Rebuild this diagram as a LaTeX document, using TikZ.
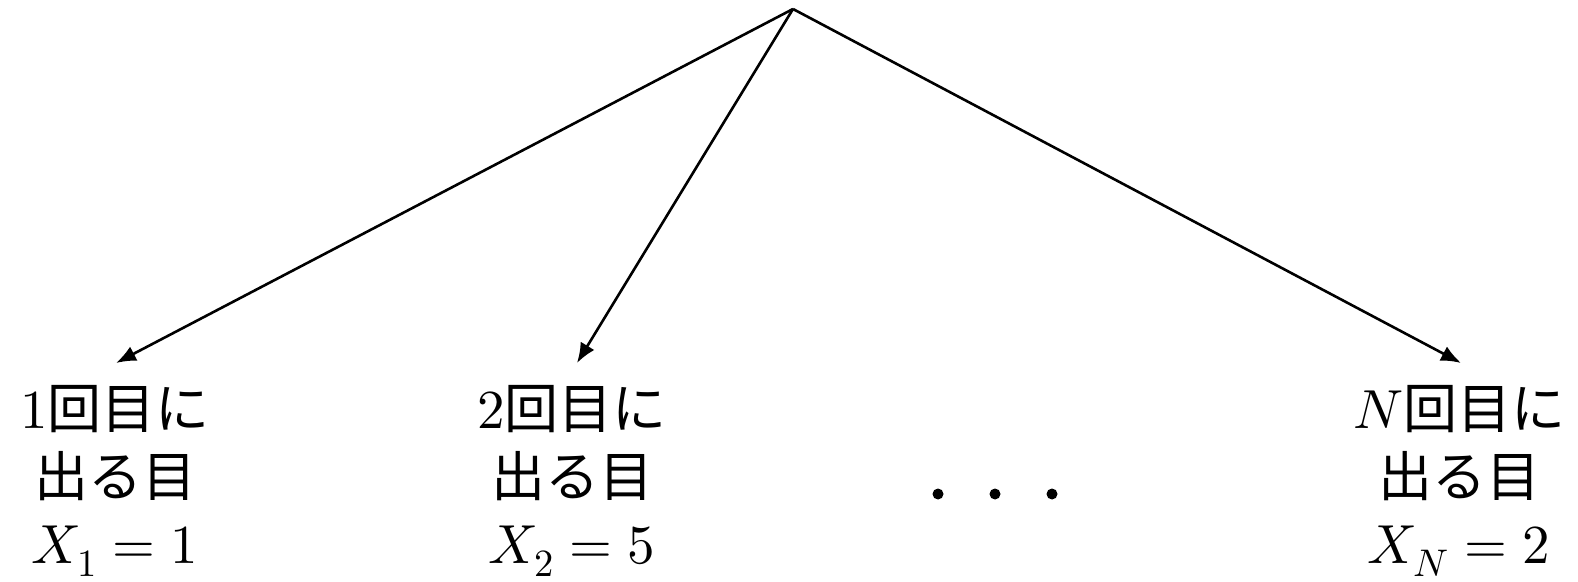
\documentclass[tikz,border=0pt]{standalone}
\usepackage{fontspec}
\usepackage{unicode-math}
\setmathfont{Latin Modern Math}
\newfontfamily\jp{Noto Sans CJK JP}
\usetikzlibrary{arrows.meta}
\newcommand{\lgmath}[1]{{\fontsize{27.5}{30}\selectfont$#1$}}
\tikzset{
  branch/.style={line width=1.3pt,-{Latex[length=10pt,width=8pt]}},
  lbl/.style={anchor=base,inner sep=0pt,font=\fontsize{27}{30}\selectfont},
  dot/.style={circle,fill=black,inner sep=0pt,minimum size=5.5pt}
}
\begin{document}
\begin{tikzpicture}[x=0.5pt,y=-0.5pt]
\useasboundingbox (0,0) rectangle (1578,582);
\coordinate (root) at (793,9);
\coordinate (t1) at (116,363);
\coordinate (t2) at (577,363);
\coordinate (tN) at (1461,363);
\draw[branch] (root) -- (t1);
\draw[branch] (root) -- (t2);
\draw[branch] (root) -- (tN);
% first roll
\node[lbl] (a1) at (115,429) {\lgmath{1}\jp 回目に};
\node[lbl] (a2) at (115,496) {\jp 出る目};
\node[lbl] (a3) at (115,563) {\lgmath{X_1=1}};
% second roll
\node[lbl] (b1) at (572,429) {\lgmath{2}\jp 回目に};
\node[lbl] (b2) at (572,496) {\jp 出る目};
\node[lbl] (b3) at (572,563) {\lgmath{X_2=5}};
% N-th roll
\node[lbl] (n1) at (1459,429) {\lgmath{N}\jp 回目に};
\node[lbl] (n2) at (1459,496) {\jp 出る目};
\node[lbl] (n3) at (1459,563) {\lgmath{X_N=2}};
% ellipsis
\node[dot] (d1) at (938,494) {};
\node[dot] (d2) at (995,494) {};
\node[dot] (d3) at (1052,494) {};
\end{tikzpicture}
\end{document}
